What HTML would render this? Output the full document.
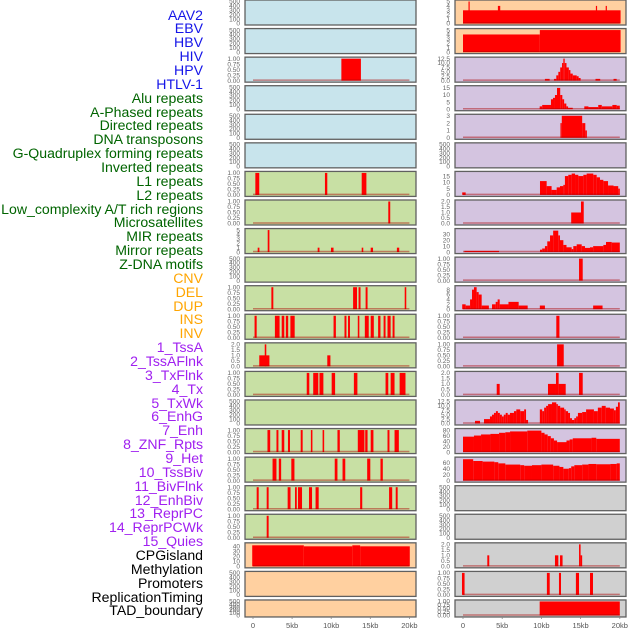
<!DOCTYPE html>
<html><head><meta charset="utf-8"><style>
html,body{margin:0;padding:0;background:#fff;width:630px;height:630px;overflow:hidden;position:relative;font-family:"Liberation Sans",sans-serif}
.lab{position:absolute;right:427px;font-size:14.1px;line-height:16px;white-space:nowrap}
svg{position:absolute;left:0;top:0}
</style></head><body>
<div id="labels"></div>
<svg id="chart" width="630" height="630"></svg>
<script>
const trackLabels=["AAV2","EBV","HBV","HIV","HPV","HTLV-1","Alu repeats","A-Phased repeats","Directed repeats","DNA transposons","G-Quadruplex forming repeats","Inverted repeats","L1 repeats","L2 repeats","Low_complexity A/T rich regions","Microsatellites","MIR repeats","Mirror repeats","Z-DNA motifs","CNV","DEL","DUP","INS","INV","1_TssA","2_TssAFlnk","3_TxFlnk","4_Tx","5_TxWk","6_EnhG","7_Enh","8_ZNF_Rpts","9_Het","10_TssBiv","11_BivFlnk","12_EnhBiv","13_ReprPC","14_ReprPCWk","15_Quies","CPGisland","Methylation","Promoters","ReplicationTiming","TAD_boundary"];
const labelGroups=[6,13,5,15,5];
const xTickValues=[0,5,10,15,20];
const xTickLabels=["0","5kb","10kb","15kb","20kb"];
const leftScale=["E","E","P1","E","E","E","P1","P1","I5","E","P1","P1","P2","P1","E","P1","P1","P1","P1","C40","E","E"];
const rightScale=["I5","I5","H12","I15a","I3","E","I15b","P2","I30","P1","I8","P1","P1","P2","H12","I80","I60","E","E","P2","P1","P1"];
const scaleTicks={E:[0,100,200,300,400,500],P1:[0,0.25,0.5,0.75,1],P2:[0,0.5,1,1.5,2],I5:[0,1,2,3,4,5],C40:[0,10,20,30,40],H12:[0,2.5,5,7.5,10,12.5],I15a:[0,5,10,15],I15b:[0,5,10,15],I3:[0,1,2,3],I30:[0,10,20,30],I8:[0,2,4,6,8],I80:[0,20,40,60,80],I60:[0,20,40,60]};
const scaleMax={E:500,P1:1,P2:2,I5:5,C40:44,H12:12.5,I15a:15.5,I15b:17.5,I3:3,I30:37,I8:9,I80:80,I60:74};
const scaleDec={E:0,P1:2,P2:1,I5:0,C40:0,H12:1,I15a:0,I15b:0,I3:0,I30:0,I8:0,I80:0,I60:0};
const leftSegs=[
[],[],[[11.3,13.8,1]],[],[],[],
[[0.3,0.8,1],[9.2,9.5,1],[13.9,14.5,1]],
[[17.3,17.55,1]],
[[0.6,0.82,1],[1.88,2.1,5],[8.27,8.5,1],[9.97,10.3,1],[13.9,14.1,1],[15.05,15.35,1],[18.4,18.7,1]],
[],
[[2.35,2.6,1],[12.8,13.3,1],[13.5,13.75,1],[14.4,14.65,1],[19.4,19.6,1]],
[[0.2,0.47,1],[2.8,3.4,1],[3.67,4.0,1],[4.2,4.5,1],[4.78,5.33,1],[10.3,10.6,1],[11.7,11.95,1],[12.15,12.4,1],[13.4,13.6,1],[14.3,14.8,1],[15.05,15.45,1],[16.0,16.3,1],[16.7,16.95,1],[17.2,17.6,1],[17.85,18.1,1]],
[[0.8,2.1,1],[1.5,1.7,2],[9.5,9.9,1]],
[[6.87,7.2,1],[7.7,8.35,1],[8.5,9.0,1],[10.06,10.5,1],[12.9,13.35,1],[16.95,17.3,1],[17.6,18.1,1],[18.75,19.5,1]],
[],
[[1.85,2.2,1],[3.0,3.25,1],[3.67,4.0,1],[4.47,4.73,1],[6.1,6.35,1],[7.4,7.6,1],[8.9,9.1,1],[10.8,11.1,1],[13.4,14.25,1],[14.35,14.65,1],[15.05,15.4,1],[17.2,17.45,1],[18.1,18.65,1]],
[[2.5,3.0,1],[3.3,3.6,1],[4.9,5.3,1],[10.45,10.8,1],[11.45,11.8,1],[14.6,15.0,1],[16.3,16.6,1]],
[[0.47,0.73,1],[1.75,2.0,1],[4.43,4.8,1],[5.37,5.6,1],[5.75,6.27,1],[7.16,7.55,1],[8.0,8.4,1],[13.7,13.97,1],[17.4,17.8,1],[18.25,18.5,1]],
[[1.75,2.0,1]],
[[-0.1,6.5,42],[6.5,12.7,40],[12.7,13.7,42],[13.7,20.05,40]],
[],[]
];
const rightSegs=[
[[0,20.1,3],[0.7,0.85,5],[4.45,4.75,4],[16.95,17.1,4],[18.2,18.35,4]],
[[0,9.8,4],[9.8,20.1,5]],
[[10.45,11.05,1],[11.6,11.9,1],[11.9,12.16,3],[12.16,12.4,5],[12.4,12.63,7.5],[12.63,12.8,10],[12.8,12.97,12.5],[12.97,13.2,10],[13.2,13.5,7.5],[13.5,13.7,6],[13.7,14.0,4],[14.0,14.5,3],[14.5,14.75,2.5],[14.75,15.0,1.5],[16.9,17.5,1],[19.2,19.6,1]],
[[9.78,10.1,2],[10.1,11.22,3],[11.22,11.48,7],[11.48,11.73,8],[11.73,11.99,10],[11.99,12.4,15],[12.4,12.67,10],[12.67,12.9,7],[12.9,13.18,4],[13.18,13.4,2],[13.4,14.0,1],[15.47,16.0,2],[16.0,17.25,1.5],[17.25,17.7,3],[17.7,19.05,2],[19.05,19.6,3],[19.6,20.0,2.5]],
[[12.43,12.6,2],[12.6,15.2,3],[15.2,15.6,2],[15.6,15.8,1]],
[],
[[-0.1,0.34,2],[9.82,10.67,11],[10.67,11.3,7],[11.3,11.95,4],[11.95,12.37,6],[12.37,12.8,7],[12.8,13.0,8],[13.0,13.43,15],[13.43,13.86,16],[13.86,14.29,17],[14.29,14.71,16],[14.71,15.35,15],[15.35,15.77,16],[15.77,16.62,17],[16.62,17.05,16],[17.05,17.47,14],[17.47,17.9,12],[17.9,18.5,11],[18.5,19.2,7.5],[19.2,19.8,7],[19.8,20.0,5]],
[[13.8,15.1,1],[15.05,15.4,2]],
[[0.17,4.6,2],[9.82,10.1,4],[10.1,10.45,6],[10.45,10.75,10],[10.75,11.1,18],[11.1,11.5,28],[11.5,12.15,36],[12.15,12.37,28],[12.37,12.8,20],[12.8,13.2,12],[13.2,13.86,8],[13.86,14.07,5],[14.07,14.5,10],[14.5,15.14,13],[15.14,15.56,10],[15.56,16.2,7],[16.2,16.6,8],[16.6,17.9,10],[17.9,18.24,12],[18.24,18.96,17],[18.96,20.0,16]],
[[14.8,15.27,1]],
[[-0.1,0.34,2],[0.34,0.9,1.5],[0.9,1.15,4],[1.15,1.4,8],[1.4,1.74,9],[1.74,2.0,7],[2.0,2.38,6],[2.38,3.3,1.5],[3.7,4.17,2],[4.17,4.42,3],[4.42,4.68,4],[4.68,5.8,2],[5.8,7.1,3],[7.1,8.25,1.5],[9.8,10.45,1.5],[16.6,17.8,1.5]],
[[11.9,12.3,1]],
[[12.0,12.85,1]],
[[4.3,4.68,1],[10.84,11.86,1],[11.86,12.2,2],[12.2,13.1,1],[14.8,15.27,2]],
[[1.53,2.17,1.5],[2.68,3.44,2.5],[3.44,3.7,4],[3.7,3.95,5],[3.95,4.2,6],[4.2,4.45,7],[4.45,4.7,6],[4.7,4.96,5],[4.96,5.2,4],[5.2,5.45,5],[5.45,5.7,6],[5.7,5.99,5],[5.99,6.5,6],[6.5,6.8,7],[6.8,7.3,8],[7.3,7.8,7],[7.8,8.04,8],[8.04,8.3,2],[9.8,10.1,8],[10.1,10.35,7],[10.35,10.6,9],[10.6,10.85,10],[10.85,11.35,11],[11.35,11.9,12],[11.9,12.1,11],[12.1,12.4,10],[12.4,12.9,9],[12.9,13.1,8],[13.1,13.4,7],[13.4,13.65,6],[13.65,13.9,3],[13.9,14.2,2],[14.2,14.43,3],[14.43,14.66,4],[14.66,15.2,6],[15.2,15.7,6.5],[15.7,16.7,8],[16.7,17.2,7],[17.2,17.7,9],[17.7,18.2,10],[18.2,18.75,9],[18.75,19.25,8.5],[19.25,19.5,7.5],[19.5,19.77,9.5],[19.77,20.0,12]],
[[0,1.4,56],[1.4,2.3,60],[2.3,3.5,64],[3.5,4.6,66],[4.6,5.4,70],[5.4,6.0,72],[6.0,8.2,75],[8.2,10.0,78],[10.0,10.4,70],[10.4,10.8,64],[10.8,11.2,58],[11.2,11.6,50],[11.6,12.0,42],[12.0,13.2,36],[13.2,13.6,42],[13.6,14.0,46],[14.0,16.4,50],[16.4,17.0,52],[17.0,20.0,48]],
[[0,1.3,72],[1.3,2.5,66],[2.5,4.0,64],[4.0,4.5,62],[4.5,5.4,58],[5.4,7.3,54],[7.3,7.8,52],[7.8,8.8,50],[8.8,10.0,52],[10.0,11.5,54],[11.5,12.3,50],[12.3,12.8,46],[12.8,13.5,40],[13.5,13.8,42],[13.8,14.2,48],[14.2,15.2,52],[15.2,16.0,54],[16.0,17.0,56],[17.0,18.8,55],[18.8,19.6,56],[19.6,20.0,58]],
[],[],
[[3.1,3.35,1],[11.73,12.16,1],[12.375,12.7,1],[14.8,15.0,2],[15.0,15.2,1]],
[[-0.13,0.2,1],[10.7,11.06,1],[12.24,12.5,1],[14.4,14.8,1],[16.2,16.58,1]],
[[9.78,20.0,1]]
];

const NS="http://www.w3.org/2000/svg";
const svg=document.getElementById('chart');
function mk(tag,attrs,parent){const e=document.createElementNS(NS,tag);for(const k in attrs)e.setAttribute(k,attrs[k]);(parent||svg).appendChild(e);return e;}
const groupColors=["#1515e8","#006400","#ffa500","#a020f0","#000000"];
const labDiv=document.getElementById('labels');
let gi=0,gc=0;
trackLabels.forEach((t,i)=>{
  while(gc>=labelGroups[gi]){gi++;gc=0;}
  gc++;
  const d=document.createElement('div');
  d.className='lab';
  d.style.top=(6.5+i*13.86)+'px';
  d.style.color=groupColors[gi];
  d.textContent=t;
  
  
  labDiv.appendChild(d);
});
const cols=[{x:245,w:171,x0:253,kx:7.82},{x:455,w:171,x0:463,kx:7.84}];
function bgFor(c,r){
  if(c===0){return r<=5?"#c8e4ec":(r<=18?"#c8e0a4":"#ffd0a0");}
  return r<=1?"#ffd0a0":(r<=16?"#d4c4e0":"#d0d0d0");
}
function fmt(v,d){return v.toFixed(d);}
for(let c=0;c<2;c++){
  const col=cols[c];
  const segs=c===0?leftSegs:rightSegs;
  const scales=c===0?leftScale:rightScale;
  for(let r=0;r<22;r++){
    const top=r*28.57;
    const h=r===21?17:25;
    const g=mk('g',{});
    
    
    const bg=mk('rect',{x:col.x,y:top,width:col.w,height:h,fill:bgFor(c,r),stroke:'#606060','stroke-width':1.3},g);
    
    
    const sc=scales[r],yMax=scaleMax[sc];
    const bot=top+h-1.5, inner=h-3;
    const yf=v=>bot-Math.min(v,yMax)/yMax*inner;
    const xf=k=>col.x0+k*col.kx;
    scaleTicks[sc].forEach(t=>{
      const tx=mk('text',{x:col.x-5,y:yf(t)+2.2,'font-size':6.5,fill:'#666','text-anchor':'end','font-family':'Liberation Sans, sans-serif'},g);
      tx.textContent=fmt(t,scaleDec[sc]);
      
      
    });
    const s=segs[r];
    if(s.length){
      s.forEach(seg=>{
        const b=mk('rect',{x:xf(seg[0]),y:yf(seg[2]),width:Math.max(1.2,xf(seg[1])-xf(seg[0])),height:bot-yf(seg[2]),fill:'#ff0000'},g);
        
        
      });
      const bl=mk('line',{x1:xf(0),x2:xf(20),y1:bot-0.5,y2:bot-0.5,stroke:'rgba(170,0,0,0.45)','stroke-width':1.5},g);
      
      
    }
  }
  xTickValues.forEach((v,i)=>{
    const x=col.x0+v*col.kx;
    const tk=mk('line',{x1:x,x2:x,y1:617,y2:619,stroke:'#888','stroke-width':0.8});
    
    
    const tx=mk('text',{x:x,y:628,'font-size':7.5,fill:'#555','text-anchor':'middle','font-family':'Liberation Sans, sans-serif'});
    tx.textContent=xTickLabels[i];
    
    
  });
}
</script>
</body></html>
